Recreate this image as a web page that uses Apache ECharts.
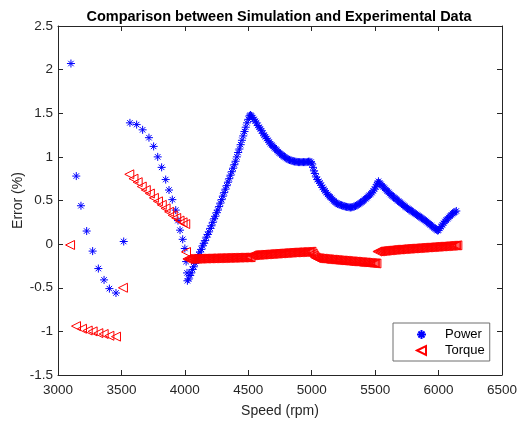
<!DOCTYPE html>
<html>
<head>
<meta charset="utf-8">
<script src="https://cdn.jsdelivr.net/npm/echarts@6/dist/echarts.min.js"></script>
<style>
html,body{margin:0;padding:0;background:#fff;}
#chart{width:517px;height:421px;}
</style>
</head>
<body>
<div id="chart"></div>
<script>
// ---- axis ticks ----
const xTicks = [3000, 3500, 4000, 4500, 5000, 5500, 6000, 6500];
const yTicks = [-1.5, -1, -0.5, 0, 0.5, 1, 1.5, 2, 2.5];

// ---- Power error (speed rpm, error %) ----
const powerLow = [[3102,2.07],[3144,0.78],[3181,0.44],[3226,0.15],[3273,-0.08],[3318,-0.28],[3363,-0.41],[3405,-0.51],[3457,-0.56],[3518,0.03]];
const powerFall = [[3567,1.39],[3620,1.37],[3667,1.31],[3717,1.22],[3754,1.12],[3786,1.00],[3817,0.88],[3849,0.74],[3875,0.62],[3901,0.51],[3928,0.39],[3946,0.27],[3962,0.16],[3983,0.055],[4000,-0.05],[4010,-0.2],[4017,-0.33]];
const powerRise = [[4020,-0.42],[4030,-0.40],[4040,-0.36],[4050,-0.33],[4060,-0.29],[4070,-0.26],[4080,-0.22],[4090,-0.19],[4100,-0.16],[4110,-0.12],[4120,-0.09],[4130,-0.06],[4140,-0.02],[4150,0.01],[4160,0.04],[4170,0.08],[4180,0.11],[4190,0.14],[4200,0.18],[4210,0.21],[4220,0.25],[4230,0.29],[4240,0.32],[4250,0.36],[4260,0.39],[4270,0.43],[4280,0.47],[4290,0.51],[4300,0.55],[4310,0.59],[4320,0.63],[4330,0.67],[4340,0.71],[4350,0.75],[4360,0.79],[4370,0.83],[4380,0.87],[4390,0.91],[4400,0.95],[4410,1.00],[4420,1.05],[4430,1.09],[4440,1.14],[4450,1.19],[4460,1.24],[4470,1.29],[4480,1.34],[4490,1.39],[4500,1.43],[4510,1.47],[4517,1.48]];
const powerDecay1 = [[4525,1.47],[4535,1.45],[4545,1.43],[4555,1.41],[4565,1.39],[4575,1.36],[4585,1.34],[4595,1.32],[4605,1.30],[4615,1.27],[4625,1.25],[4635,1.23],[4645,1.21],[4655,1.19],[4665,1.17],[4675,1.15],[4685,1.135],[4695,1.12],[4705,1.105],[4715,1.09],[4725,1.075],[4735,1.06],[4745,1.045],[4755,1.035],[4765,1.02],[4775,1.01],[4785,1.00],[4795,0.99],[4805,0.98],[4815,0.97],[4825,0.965],[4835,0.96],[4845,0.955],[4855,0.95],[4865,0.947],[4875,0.945],[4885,0.942],[4895,0.94],[4905,0.94],[4915,0.94],[4925,0.94],[4935,0.94],[4945,0.94],[4955,0.94],[4965,0.942],[4975,0.945],[4985,0.945],[4995,0.94]];
const powerDip = [[5003,0.92],[5010,0.88],[5018,0.84],[5025,0.81],[5035,0.77],[5045,0.74],[5055,0.72],[5065,0.70],[5075,0.675],[5085,0.65],[5095,0.63],[5105,0.61],[5115,0.59],[5125,0.57],[5135,0.555],[5145,0.54],[5155,0.525],[5165,0.51],[5175,0.495],[5185,0.48],[5195,0.47],[5205,0.46],[5215,0.455],[5225,0.45],[5235,0.445],[5245,0.44],[5255,0.435],[5265,0.43],[5275,0.427],[5285,0.425],[5295,0.422],[5305,0.42],[5315,0.422],[5325,0.425],[5335,0.43],[5345,0.437],[5355,0.445],[5365,0.453],[5375,0.462],[5385,0.472],[5395,0.483],[5405,0.495],[5415,0.507],[5425,0.52],[5435,0.533],[5445,0.547],[5455,0.56],[5465,0.575],[5475,0.59],[5485,0.61],[5495,0.63],[5505,0.655],[5513,0.68],[5520,0.70],[5526,0.72]];
const powerDecay2 = [[5535,0.70],[5545,0.685],[5555,0.67],[5565,0.655],[5575,0.64],[5585,0.625],[5595,0.61],[5605,0.595],[5615,0.58],[5625,0.565],[5635,0.553],[5645,0.54],[5655,0.528],[5665,0.516],[5675,0.504],[5685,0.492],[5695,0.48],[5705,0.468],[5715,0.456],[5725,0.444],[5735,0.432],[5745,0.42],[5755,0.41],[5765,0.40],[5775,0.39],[5785,0.38],[5795,0.37],[5805,0.36],[5815,0.35],[5825,0.34],[5835,0.33],[5845,0.32],[5855,0.31],[5865,0.30],[5875,0.29],[5885,0.28],[5895,0.27],[5905,0.258],[5915,0.246],[5925,0.234],[5935,0.222],[5945,0.21],[5955,0.198],[5965,0.186],[5975,0.174],[5985,0.163],[5993,0.155]];
const powerTail = [[6000,0.16],[6010,0.18],[6020,0.20],[6030,0.22],[6040,0.24],[6050,0.26],[6060,0.275],[6070,0.29],[6080,0.305],[6090,0.32],[6100,0.335],[6110,0.35],[6120,0.36],[6130,0.37],[6140,0.38]];

// ---- Torque error (speed rpm, error %) ----
const torqueLow = [[3095,-0.01],[3142,-0.94],[3189,-0.97],[3234,-0.99],[3273,-1.00],[3318,-1.02],[3360,-1.03],[3405,-1.05],[3457,-1.06],[3512,-0.5]];
const torqueFall = [[3562,0.80],[3595,0.75],[3628,0.71],[3660,0.66],[3692,0.62],[3724,0.58],[3756,0.53],[3788,0.49],[3818,0.45],[3848,0.41],[3876,0.37],[3904,0.33],[3932,0.30],[3958,0.27],[3982,0.25],[4003,0.23],[4009,-0.09]];
const torqueBand1 = [[4020,-0.170],[4030,-0.170],[4040,-0.170],[4050,-0.169],[4060,-0.169],[4070,-0.169],[4080,-0.168],[4090,-0.168],[4100,-0.168],[4110,-0.167],[4120,-0.167],[4130,-0.166],[4140,-0.166],[4150,-0.165],[4160,-0.165],[4170,-0.165],[4180,-0.164],[4190,-0.164],[4200,-0.163],[4210,-0.163],[4220,-0.163],[4230,-0.162],[4240,-0.162],[4250,-0.161],[4260,-0.161],[4270,-0.161],[4280,-0.160],[4290,-0.160],[4300,-0.160],[4310,-0.159],[4320,-0.159],[4330,-0.158],[4340,-0.158],[4350,-0.158],[4360,-0.157],[4370,-0.157],[4380,-0.157],[4390,-0.156],[4400,-0.156],[4410,-0.155],[4420,-0.155],[4430,-0.155],[4440,-0.154],[4450,-0.154],[4460,-0.154],[4470,-0.153],[4480,-0.153],[4490,-0.152],[4500,-0.152],[4510,-0.152],[4518,-0.151]];
const torqueBand2 = [[4528,-0.128],[4538,-0.127],[4548,-0.126],[4558,-0.125],[4568,-0.124],[4578,-0.123],[4588,-0.122],[4598,-0.121],[4608,-0.12],[4618,-0.119],[4628,-0.118],[4638,-0.117],[4648,-0.116],[4658,-0.115],[4668,-0.114],[4678,-0.113],[4688,-0.112],[4698,-0.111],[4708,-0.11],[4718,-0.109],[4728,-0.108],[4738,-0.107],[4748,-0.106],[4758,-0.105],[4768,-0.104],[4778,-0.103],[4788,-0.102],[4798,-0.101],[4808,-0.1],[4818,-0.099],[4828,-0.098],[4838,-0.097],[4848,-0.096],[4858,-0.095],[4868,-0.095],[4878,-0.094],[4888,-0.093],[4898,-0.093],[4908,-0.092],[4918,-0.091],[4928,-0.091],[4938,-0.09],[4948,-0.09],[4958,-0.089],[4968,-0.089],[4978,-0.088],[4988,-0.087],[4998,-0.086]];
const torqueBand3 = [[5008,-0.11],[5016,-0.13],[5024,-0.148],[5032,-0.157],[5040,-0.16],[5050,-0.162],[5060,-0.163],[5070,-0.165],[5080,-0.166],[5090,-0.168],[5100,-0.17],[5110,-0.171],[5120,-0.172],[5130,-0.174],[5140,-0.175],[5150,-0.177],[5160,-0.178],[5170,-0.179],[5180,-0.18],[5190,-0.182],[5200,-0.183],[5210,-0.185],[5220,-0.186],[5230,-0.187],[5240,-0.188],[5250,-0.189],[5260,-0.19],[5270,-0.192],[5280,-0.193],[5290,-0.195],[5300,-0.196],[5310,-0.197],[5320,-0.198],[5330,-0.199],[5340,-0.2],[5350,-0.202],[5360,-0.203],[5370,-0.205],[5380,-0.206],[5390,-0.207],[5400,-0.208],[5410,-0.209],[5420,-0.21],[5430,-0.212],[5440,-0.213],[5450,-0.215],[5460,-0.216],[5470,-0.217],[5480,-0.218],[5490,-0.219],[5500,-0.22],[5510,-0.222]];
const torqueBand4 = [[5518,-0.085],[5528,-0.083],[5538,-0.082],[5548,-0.08],[5558,-0.079],[5568,-0.077],[5578,-0.076],[5588,-0.074],[5598,-0.073],[5608,-0.071],[5618,-0.07],[5628,-0.068],[5638,-0.067],[5648,-0.065],[5658,-0.064],[5668,-0.063],[5678,-0.062],[5688,-0.061],[5698,-0.06],[5708,-0.058],[5718,-0.057],[5728,-0.056],[5738,-0.055],[5748,-0.054],[5758,-0.053],[5768,-0.052],[5778,-0.051],[5788,-0.05],[5798,-0.049],[5808,-0.048],[5818,-0.047],[5828,-0.046],[5838,-0.045],[5848,-0.044],[5858,-0.043],[5868,-0.042],[5878,-0.041],[5888,-0.04],[5898,-0.039],[5908,-0.038],[5918,-0.037],[5928,-0.036],[5938,-0.035],[5948,-0.034],[5958,-0.033],[5968,-0.032],[5978,-0.031],[5988,-0.03],[5998,-0.029],[6008,-0.028],[6018,-0.027],[6028,-0.026],[6038,-0.025],[6048,-0.024],[6058,-0.023],[6068,-0.022],[6078,-0.021],[6088,-0.02],[6098,-0.019],[6108,-0.018],[6118,-0.017],[6128,-0.016],[6138,-0.015],[6148,-0.014]];

const powerData = [].concat(powerLow, powerFall, powerRise, powerDecay1, powerDip, powerDecay2, powerTail);
const torqueData = [].concat(torqueLow, torqueFall, torqueBand1, torqueBand2, torqueBand3, torqueBand4);

const FONT = '"Liberation Sans", Arial, Helvetica, sans-serif';
const AX = '#262626';
const starPath = 'path://M5,0L5,10M0,5L10,5M1.6,1.6L8.4,8.4M1.6,8.4L8.4,1.6';
const triPath = 'path://M0,5L10,0L10,10Z';

const chart = echarts.init(document.getElementById('chart'), null, {renderer: 'canvas'});

function baseX(pos, showLabel) {
  return {
    type: 'value', position: pos,
    min: xTicks[0], max: xTicks[xTicks.length - 1], interval: 500,
    axisLine: {show: true, onZero: false, lineStyle: {color: AX, width: 1}},
    axisTick: {show: true, inside: true, length: 5, lineStyle: {color: AX}},
    splitLine: {show: false},
    axisLabel: {show: showLabel, color: AX, fontSize: 13.5, fontFamily: FONT, margin: 8,
      formatter: function (v) { return String(v); }},
  };
}
function baseY(pos, showLabel) {
  return {
    type: 'value', position: pos,
    min: yTicks[0], max: yTicks[yTicks.length - 1], interval: 0.5,
    axisLine: {show: true, onZero: false, lineStyle: {color: AX, width: 1}},
    axisTick: {show: true, inside: true, length: 5, lineStyle: {color: AX}},
    splitLine: {show: false},
    axisLabel: {show: showLabel, color: AX, fontSize: 13.5, fontFamily: FONT, margin: 5,
      formatter: function (v) { return String(v); }},
  };
}

const xMain = Object.assign(baseX('bottom', true), {
  name: 'Speed (rpm)', nameLocation: 'middle', nameGap: 29, nameMoveOverlap: false,
  nameTextStyle: {color: AX, fontSize: 14, fontFamily: FONT}
});
const yMain = Object.assign(baseY('left', true), {
  name: 'Error (%)', nameLocation: 'middle', nameGap: 33, nameMoveOverlap: false,
  nameTextStyle: {color: AX, fontSize: 14, fontFamily: FONT}
});

chart.setOption({
  animation: false,
  backgroundColor: '#ffffff',
  title: {
    text: 'Comparison between Simulation and Experimental Data',
    left: 279, top: 9, padding: 0, textAlign: 'center',
    textStyle: {color: '#000', fontSize: 14.5, fontWeight: 'bold', fontFamily: FONT}
  },
  grid: {left: 58, right: 15, top: 26, bottom: 46, containLabel: false, outerBoundsMode: 'none'},
  xAxis: [xMain, baseX('top', false)],
  yAxis: [yMain, baseY('right', false)],
  legend: {
    orient: 'vertical', left: 393, top: 323,
    padding: [5, 5, 4, 23], itemGap: 3,
    itemWidth: 9, itemHeight: 9,
    backgroundColor: '#fff', borderColor: '#6e6e6e', borderWidth: 1,
    selectedMode: false,
    textStyle: {color: '#000', fontSize: 13, fontFamily: FONT, padding: [0, 0, 0, 14]},
    data: ['Power', 'Torque']
  },
  series: [
    {
      name: 'Power', type: 'scatter', xAxisIndex: 0, yAxisIndex: 0,
      symbol: starPath, symbolSize: 8, symbolKeepAspect: true,
      itemStyle: {color: '#0000ff', borderColor: '#0000ff', borderWidth: 1, opacity: 1},
      data: powerData
    },
    {
      name: 'Torque', type: 'scatter', xAxisIndex: 0, yAxisIndex: 0,
      symbol: triPath, symbolSize: 9, symbolKeepAspect: true,
      itemStyle: {color: 'rgba(255,0,0,0)', borderColor: '#ff0000', borderWidth: 1, opacity: 1},
      data: torqueData
    }
  ]
});
</script>
</body>
</html>
